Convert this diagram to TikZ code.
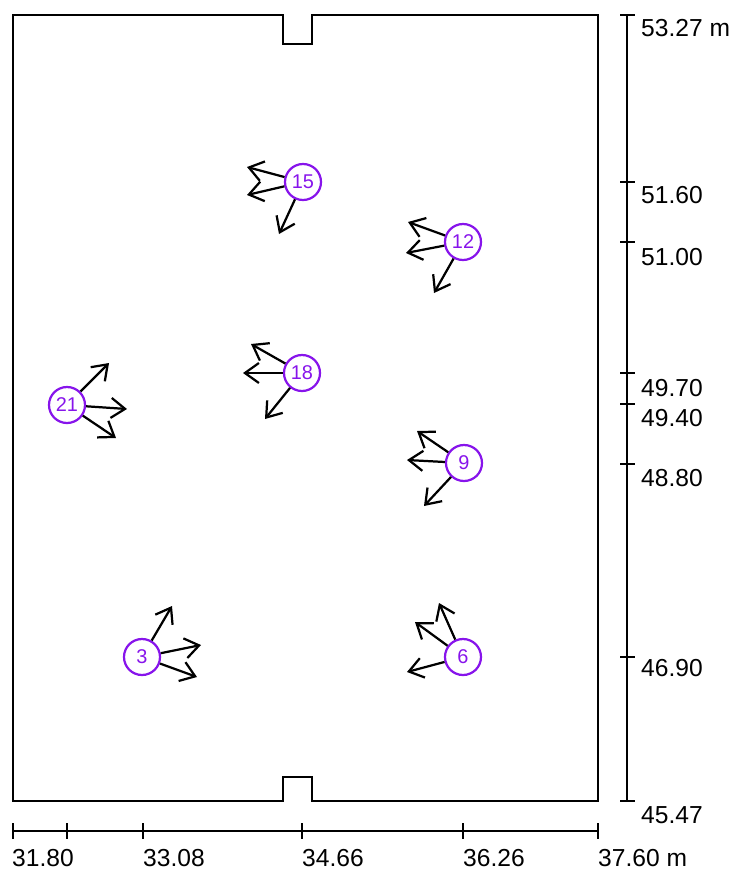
\documentclass[tikz,border=0pt]{standalone}
\usepackage{fontspec}
\setmainfont{Liberation Sans}
\usetikzlibrary{arrows.meta}
\definecolor{spotviolet}{RGB}{135,20,235}

\begin{document}
\begin{tikzpicture}[x=0.3mm, y=-0.3mm,
  wall/.style={line width=2.1pt, line join=miter},
  spot/.style={circle, draw=spotviolet, line width=1.9pt, minimum size=10.8mm,
    inner sep=0pt, text=spotviolet, font=\fontsize{17}{17}\selectfont},
  look/.style={line width=1.9pt,
    -{Straight Barb[length=4.2mm, width=6mm, line width=1.9pt]}},
  axlabel/.style={inner sep=0pt, anchor=west, font=\fontsize{21}{21}\selectfont}]
  \useasboundingbox (0,0) rectangle (732,870);

  % room outline with the two doors
  \draw[wall] (283,15) -- (13,15) -- (13,801) -- (283,801) -- (283,777)
    -- (312,777) -- (312,801) -- (598,801) -- (598,15) -- (312,15)
    -- (312,44) -- (283,44) -- cycle;

  % scale on the right
  \draw[wall] (627,15) -- (627,801);
  \foreach \y in {15,182,242,373,404,464,657,801}
    \draw[wall] (620,\y) -- (635,\y);
  \node[axlabel] (y5327) at (641,28) {53.27 m};
  \node[axlabel] (y5160) at (641,195) {51.60};
  \node[axlabel] (y5100) at (641,257) {51.00};
  \node[axlabel] (y4970) at (641,388) {49.70};
  \node[axlabel] (y4940) at (641,418) {49.40};
  \node[axlabel] (y4880) at (641,478) {48.80};
  \node[axlabel] (y4690) at (641,668) {46.90};
  \node[axlabel] (y4547) at (641,815) {45.47};

  % scale at the bottom
  \draw[wall] (13,831) -- (598,831);
  \foreach \x in {13,67,143,302,463,598}
    \draw[wall] (\x,823) -- (\x,839);
  \node[axlabel] (x3180) at (12,858) {31.80};
  \node[axlabel] (x3308) at (143,858) {33.08};
  \node[axlabel] (x3466) at (302,858) {34.66};
  \node[axlabel] (x3626) at (463,858) {36.26};
  \node[axlabel] (x3760) at (598,858) {37.60 m};

  % positions
  \node[spot] (p15) at (303,182) {15};
  \node[spot] (p12) at (463,242) {12};
  \node[spot] (p18) at (302,373) {18};
  \node[spot] (p21) at (67,405) {21};
  \node[spot] (p9) at (464,463) {9};
  \node[spot] (p3) at (142,657) {3};
  \node[spot] (p6) at (463,657) {6};

  % viewing directions
  \coordinate (p15a) at (247,167);
  \coordinate (p15b) at (247,195);
  \coordinate (p15c) at (279,234);
  \coordinate (p12a) at (408,222);
  \coordinate (p12b) at (406,253);
  \coordinate (p12c) at (434,293);
  \coordinate (p18a) at (251,344);
  \coordinate (p18b) at (243,373);
  \coordinate (p18c) at (265,419);
  \coordinate (p21a) at (109,363);
  \coordinate (p21b) at (127,409);
  \coordinate (p21c) at (116,438);
  \coordinate (p9a) at (417,431);
  \coordinate (p9b) at (407,460);
  \coordinate (p9c) at (424,506);
  \coordinate (p3a) at (172,606);
  \coordinate (p3b) at (201,645);
  \coordinate (p3c) at (197,677);
  \coordinate (p6a) at (439,603);
  \coordinate (p6b) at (415,622);
  \coordinate (p6c) at (407,672);

  \draw[look] (p15) -- (p15a);
  \draw[look] (p15) -- (p15b);
  \draw[look] (p15) -- (p15c);
  \draw[look] (p12) -- (p12a);
  \draw[look] (p12) -- (p12b);
  \draw[look] (p12) -- (p12c);
  \draw[look] (p18) -- (p18a);
  \draw[look] (p18) -- (p18b);
  \draw[look] (p18) -- (p18c);
  \draw[look] (p21) -- (p21a);
  \draw[look] (p21) -- (p21b);
  \draw[look] (p21) -- (p21c);
  \draw[look] (p9) -- (p9a);
  \draw[look] (p9) -- (p9b);
  \draw[look] (p9) -- (p9c);
  \draw[look] (p3) -- (p3a);
  \draw[look] (p3) -- (p3b);
  \draw[look] (p3) -- (p3c);
  \draw[look] (p6) -- (p6a);
  \draw[look] (p6) -- (p6b);
  \draw[look] (p6) -- (p6c);
\end{tikzpicture}
\end{document}
